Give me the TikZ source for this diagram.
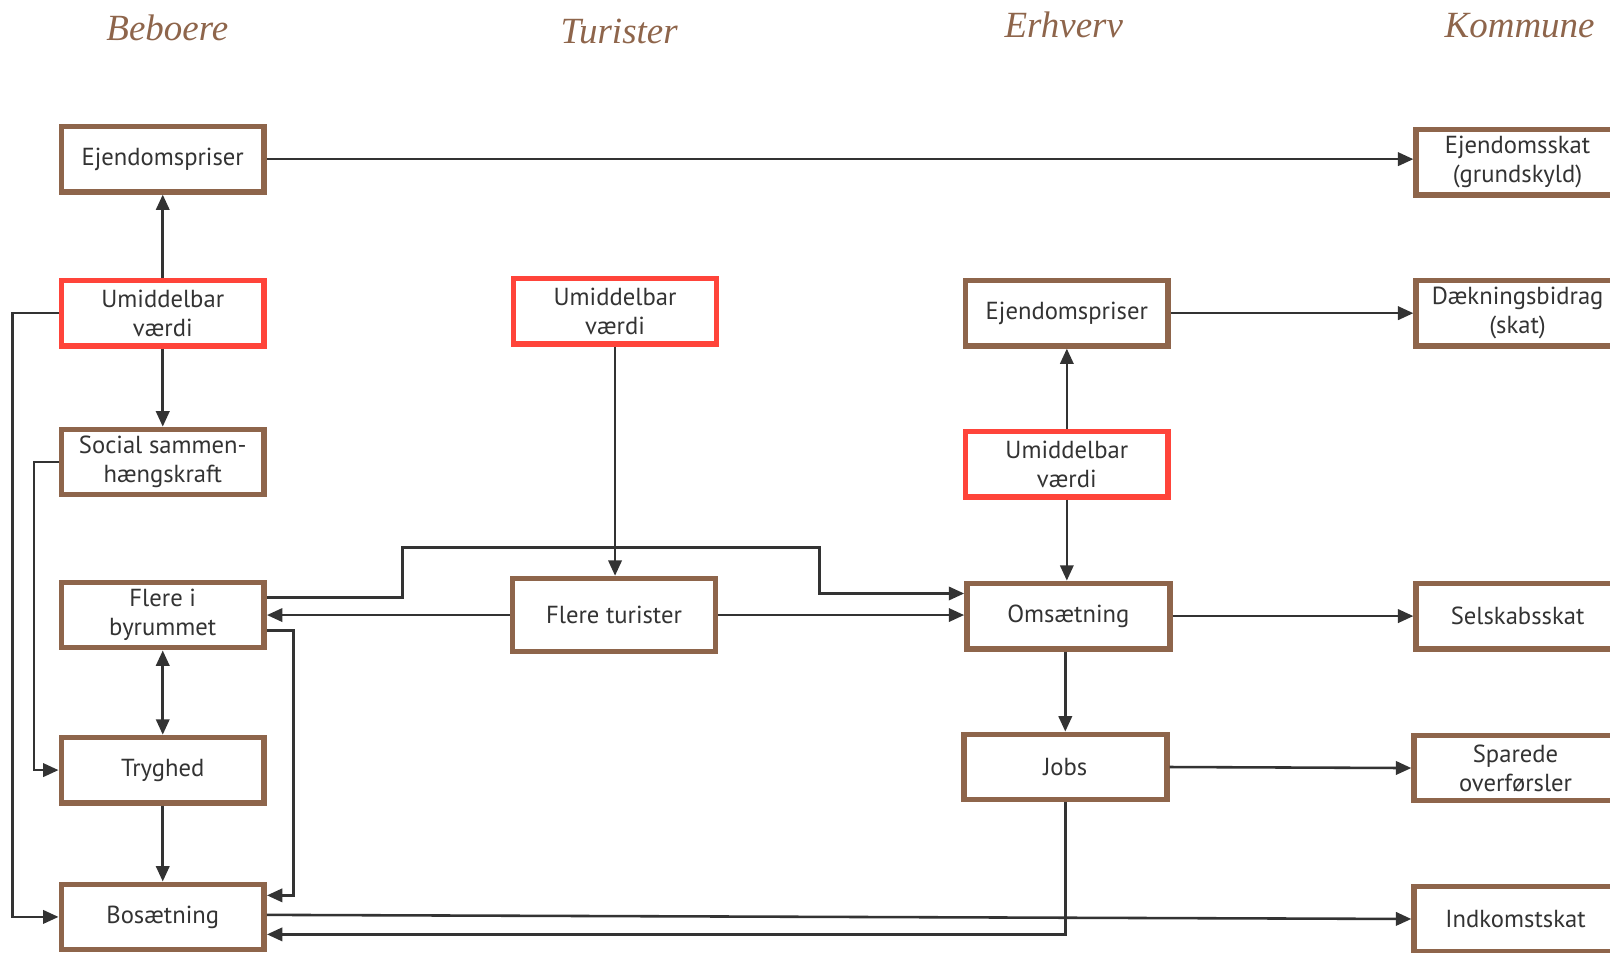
\documentclass[tikz,border=0pt]{standalone}
\usepackage{fontspec}
\setmainfont{PT Sans}
\newfontfamily\headfont{Liberation Serif}
\usetikzlibrary{arrows.meta}
\definecolor{boxbrown}{HTML}{8E654B}
\definecolor{valred}{HTML}{FF443A}
\definecolor{linkgray}{HTML}{333333}
\begin{document}
\begin{tikzpicture}[x=1pt,y=-1pt,
  >={Triangle[length=15pt,width=13pt]},
  box/.style={draw=boxbrown, line width=5.5pt, fill=white, minimum width=197.5pt,
    minimum height=63.5pt, align=center, inner sep=0pt, text=linkgray,
    font=\fontsize{24}{28}\selectfont},
  valbox/.style={box, draw=valred},
  head/.style={font=\headfont\itshape\fontsize{36}{40}\selectfont, text=boxbrown},
  link/.style={draw=linkgray, line width=2.5pt, ->},
]
\useasboundingbox (0,0) rectangle (1568,928);
\clip (0,0) rectangle (1568,928);

% column headings
\node[head] (hB) at (163,27) {Beboere};
\node[head] (hT) at (603,31) {Turister};
\node[head] (hE) at (1036,24) {Erhverv};
\node[head] (hK) at (1480,25) {Kommune};

% residents
\node[box]    (e1) at (158.5,155) {Ejendomspriser};
\node[valbox] (u1) at (158.5,305) {Umiddelbar\\værdi};
\node[box]    (s1) at (158.5,450) {Social sammen-\\hængskraft};
\node[box]    (f1) at (158.5,599) {Flere i\\byrummet};
\node[box]    (t1) at (158.5,750) {Tryghed};
\node[box]    (b1) at (158.5,893) {Bosætning};

% tourists
\node[valbox] (u2) at (599,303) {Umiddelbar\\værdi};
\node[box, minimum height=71pt] (ft) at (598,599) {Flere turister};

% business
\node[box]    (e3) at (1039,305) {Ejendomspriser};
\node[valbox] (u3) at (1039,452) {Umiddelbar\\værdi};
\node[box]    (om) at (1040.5,600) {Omsætning};
\node[box]    (jb) at (1037.5,747) {Jobs};

% municipality
\node[box] (k1) at (1478,158) {Ejendomsskat\\(grundskyld)};
\node[box] (k2) at (1478,305) {Dækningsbidrag\\(skat)};
\node[box] (k3) at (1478,600) {Selskabsskat};
\node[box] (k4) at (1476,748) {Sparede\\overførsler};
\node[box] (k5) at (1476,895) {Indkomstskat};

% waypoints for the long detour from the city space to turnover
\coordinate (w1) at (392,533);
\coordinate (w2) at (798,578);

% connectors
\draw[link] (e1.east) -- (e1.east -| k1.west);
\draw[link] (u1) -- (e1);
\draw[link] (u1) -- (s1);
\draw[link] (u1.west) -- ++(-45,0) |- (b1.west);
\draw[link] (s1.west) -- ++(-24,0) |- (t1.west);
\draw[link, <->] (f1) -- (t1);
\draw[link] (t1) -- (b1);
\draw[link] ([yshift=-15pt]f1.east) -- ++(26,0) |- ([yshift=21pt]b1.east);
\draw[link] ([yshift=17pt]f1.east) -| (w1) -| (w2) -- ([yshift=22pt]om.west);
\draw[link] (ft.west) -- (ft.west -| f1.east);
\draw[link] (ft.east) -- (ft.east -| om.west);
\draw[link] (u2.south) -- (u2.south |- ft.north);
\draw[link] (u3) -- (e3);
\draw[link] (u3.south) -- (u3.south |- om.north);
\draw[link] (e3) -- (k2);
\draw[link] (om.east) -- (om.east -| k3.west);
\draw[link] (jb.north |- om.south) -- (jb.north);
\draw[link] (jb.east) -- (k4.west);
\draw[link] ([yshift=2pt]b1.east) -- (k5.west);
\draw[link] (jb.south) |- ([yshift=-17pt]b1.east);
\end{tikzpicture}
\end{document}
